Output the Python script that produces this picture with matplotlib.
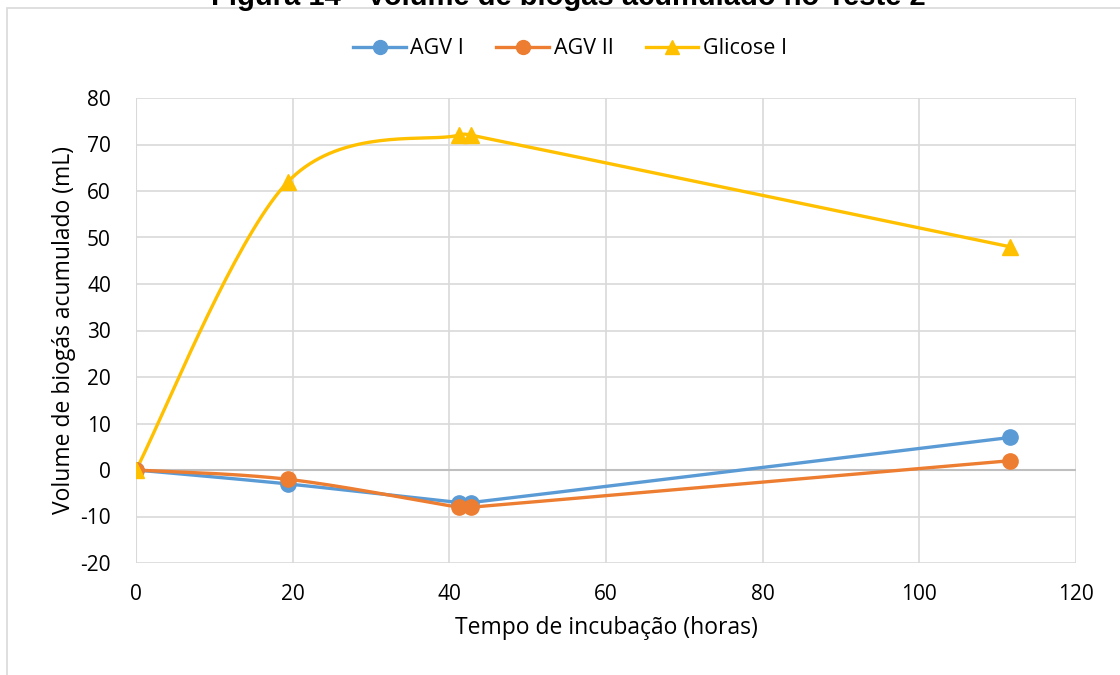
import numpy as np
import matplotlib
matplotlib.use("Agg")
import matplotlib.pyplot as plt
from matplotlib.patches import Rectangle

plt.rcParams['font.family'] = ['Open Sans', 'DejaVu Sans']
plt.rcParams['axes.unicode_minus'] = False

# data
tempo = [0, 19.4, 41.2, 42.8, 111.6]
agv_1 = [0, -3, -7, -7, 7]
agv_2 = [0, -2, -8, -8, 2]
glicose_1 = [0, 62, 72, 72, 48]

series = [
    ("AGV I", agv_1, '#5B9BD5', 'o'),
    ("AGV II", agv_2, '#ED7D31', 'o'),
    ("Glicose I", glicose_1, '#FFC000', '^'),
]


def smooth(ax, xs, ys, n=40):
    # Excel-like smoothed line: bezier with 1/6 tangents in display space,
    # control arm capped at half of the segment length
    pts = ax.transData.transform(np.column_stack([xs, ys]))
    P = np.vstack([pts[0], pts, pts[-1]])
    out = []
    t = np.linspace(0, 1, n)[:, None]
    for i in range(1, len(P) - 2):
        p0, p1, p2, p3 = P[i - 1], P[i], P[i + 1], P[i + 2]
        L = np.linalg.norm(p2 - p1)
        v1 = p2 - p0
        v2 = p3 - p1
        f1 = 1 / 6
        f2 = 1 / 6
        if np.linalg.norm(v1) * f1 > L / 2:
            f1 = L / 2 / np.linalg.norm(v1)
        if np.linalg.norm(v2) * f2 > L / 2:
            f2 = L / 2 / np.linalg.norm(v2)
        c1 = p1 + v1 * f1
        c2 = p2 - v2 * f2
        seg = ((1 - t) ** 3) * p1 + 3 * ((1 - t) ** 2) * t * c1 + 3 * (1 - t) * t ** 2 * c2 + t ** 3 * p2
        out.append(seg)
    out = np.vstack(out)
    d = ax.transData.inverted().transform(out)
    return d[:, 0], d[:, 1]


fig = plt.figure(figsize=(11.2, 6.75), dpi=100)
fig.patches.append(Rectangle((7 / 1120, -0.1), 1.2, 0.1 + 1 - 8 / 675, transform=fig.transFigure,
                             fill=False, edgecolor='#d9d9d9', linewidth=1.2))

ax = fig.add_axes([136 / 1120, 112 / 675, 940 / 1120, 465 / 675])
ax.set_xlim(0, 120)
ax.set_ylim(-20, 80)
ax.set_xticks(np.arange(0, 121, 20))
ax.set_yticks(np.arange(-20, 81, 10))
ax.grid(True, color='#d9d9d9', linewidth=1.2)
ax.set_axisbelow(True)
for s in ax.spines.values():
    s.set_visible(False)
ax.axvline(0, color='#d9d9d9', linewidth=1.5, zorder=1)
ax.axhline(0, color='#bfbfbf', linewidth=1.5, zorder=1)
ax.tick_params(length=0, labelsize=15, colors='black')
ax.tick_params(axis='y', pad=18)
ax.tick_params(axis='x', pad=15)

for name, vals, col, mk in series:
    sx, sy = smooth(ax, tempo, vals)
    ax.plot(sx, sy, color=col, linewidth=2.4, zorder=3, solid_capstyle='round')
    ax.plot(tempo, vals, linestyle='none', marker=mk, markersize=11, color=col, zorder=4)
    # legend proxy
    ax.plot([], [], color=col, linewidth=2.4, marker=mk, markersize=10, label=name)

ax.set_xlabel('Tempo de incubação (horas)', fontsize=16.5, labelpad=8)
ax.set_ylabel('Volume de biogás acumulado (mL)', fontsize=16.5, labelpad=3)

leg = fig.legend(loc='center', bbox_to_anchor=(570 / 1120, 1 - 49 / 675), ncol=3, frameon=False,
                 fontsize=15.5, handlelength=2.45, columnspacing=1.5, handletextpad=0.2)

fig.text(568 / 1120, 1 - 5 / 675, 'Figura 14 - Volume de biogás acumulado no Teste 2',
         ha='center', va='baseline', fontsize=21, fontweight='bold', family='Liberation Sans')

fig.savefig('out.png', dpi=100)
